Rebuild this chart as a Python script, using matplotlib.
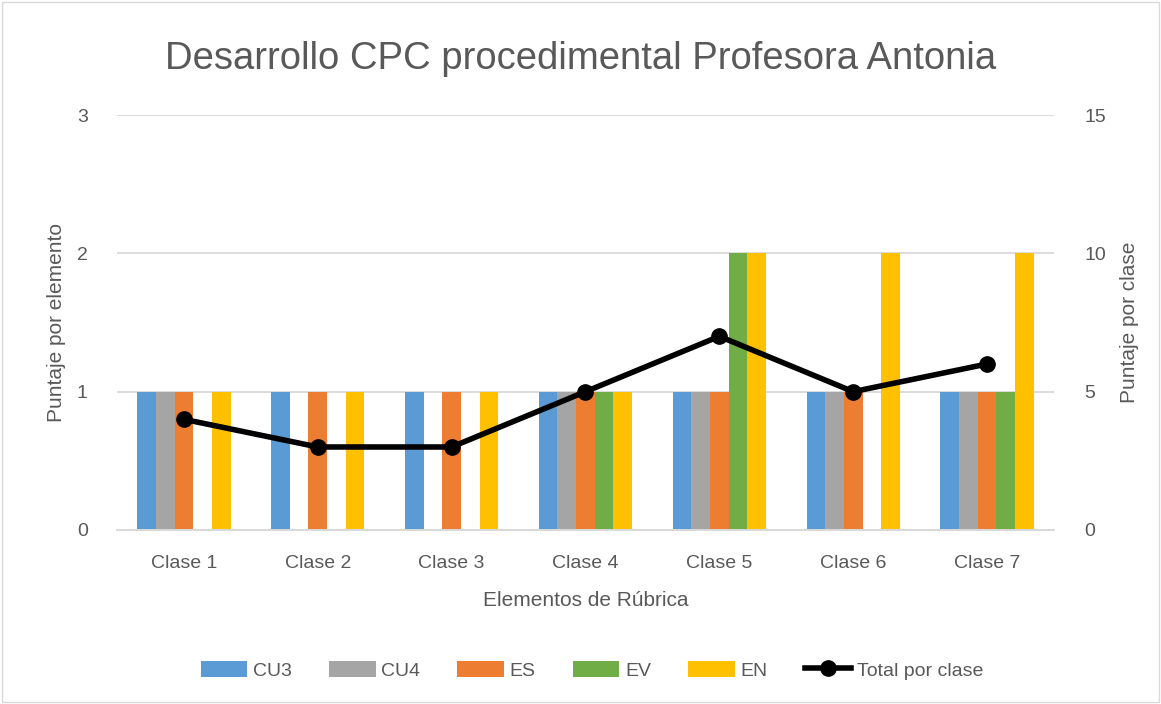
import numpy as np
import matplotlib.pyplot as plt
from matplotlib.patches import Rectangle

# Data
clases = ["Clase 1", "Clase 2", "Clase 3", "Clase 4", "Clase 5", "Clase 6", "Clase 7"]
cu3 = [1, 1, 1, 1, 1, 1, 1]
cu4 = [1, 0, 0, 1, 1, 1, 1]
es = [1, 1, 1, 1, 1, 1, 1]
ev = [0, 0, 0, 1, 2, 0, 1]
en = [1, 1, 1, 1, 2, 2, 2]
total = [4, 3, 3, 5, 7, 5, 6]

series = [
    ("CU3", cu3, "#5b9bd5"),
    ("CU4", cu4, "#a5a5a5"),
    ("ES", es, "#ed7d31"),
    ("EV", ev, "#70ad47"),
    ("EN", en, "#ffc000"),
]

text_color = "#595959"
grid_color = "#d9d9d9"
plt.rcParams['font.family'] = ['Liberation Sans', 'DejaVu Sans']

fig = plt.figure(figsize=(11.61, 7.04), dpi=100)
ax = fig.add_axes([0.1008, 0.2472, 0.807, 0.5894])
ax2 = ax.twinx()

x = np.arange(len(clases))
bar_w = 1 / (5 + 2.17)

# Bars
handles = []
for i, (name, vals, color) in enumerate(series):
    h = ax.bar(x + (i - 2) * bar_w, vals, width=bar_w, color=color,
               label=name, zorder=2)
    handles.append(h)

ax.set_xlim(-0.5, len(clases) - 0.5)
ax.set_ylim(0, 3)
ax.set_yticks([0, 1, 2, 3])
ax.yaxis.grid(True, color=grid_color, linewidth=1.3, zorder=0)
ax.set_axisbelow(True)
ax.set_xticks(x)
ax.set_xticklabels(clases)

# Total line on secondary axis
line, = ax2.plot(x, total, color="black", linewidth=4, marker="o",
                 markersize=11, label="Total por clase", zorder=5)
ax2.set_ylim(0, 15)
ax2.set_yticks([0, 5, 10, 15])

for a in (ax, ax2):
    for side in ("top", "left", "right"):
        a.spines[side].set_visible(False)
    a.spines["bottom"].set_color(grid_color)
    a.spines["bottom"].set_linewidth(1.3)
    a.tick_params(length=0, labelsize=14, colors=text_color)
ax.tick_params(axis="y", pad=21)
ax2.tick_params(axis="y", pad=22)
ax.tick_params(axis="x", pad=18)

ax.set_ylabel("Puntaje por elemento", fontsize=15, color=text_color, labelpad=8)
ax2.set_ylabel("Puntaje por clase", fontsize=15, color=text_color, labelpad=10)
ax.set_xlabel("Elementos de Rúbrica", fontsize=15, color=text_color, labelpad=14)

fig.suptitle("Desarrollo CPC procedimental Profesora Antonia", fontsize=27.5,
             color=text_color, y=0.942)

fig.legend(handles + [line], [s[0] for s in series] + ["Total por clase"],
           loc="center", bbox_to_anchor=(0.51, 0.048), ncol=6, frameon=False,
           fontsize=14, labelcolor=text_color, handlelength=2.4,
           handleheight=0.9, columnspacing=1.9, handletextpad=0.3)

# Chart area border
fig.patches.append(Rectangle((0.002, 0.003), 0.996, 0.994, transform=fig.transFigure,
                             fill=False, edgecolor=grid_color, linewidth=1))

fig.savefig("out.png", dpi=100)
